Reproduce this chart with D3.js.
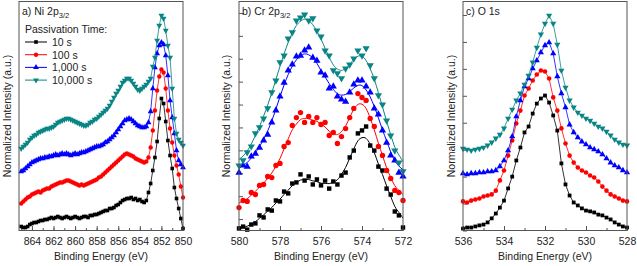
<!doctype html>
<html>
<head>
<meta charset="utf-8">
<title>XPS spectra vs passivation time</title>
<script src="https://cdn.jsdelivr.net/npm/d3@7"></script>
<style>
  body { margin: 0; background: #fff; }
  svg text { font-family: "Liberation Sans", Arial, sans-serif; fill: #222; }
</style>
</head>
<body>
<div class="chart"></div>
<script>
var series = ["10 s", "100 s", "1,000 s", "10,000 s"];
var colors = ["#000000", "#ff0000", "#0000ff", "#0a8585"];

// a) Ni 2p3/2 , 865 -> 850 eV every 0.2 eV
var niEnergy = d3.range(0, 76).map(function(i) { return +(865 - i * 0.2).toFixed(1); });
var ni10 = [2, 1.5, 1.5, 2, 3, 3.5, 4, 4, 4.5, 5,
            5, 5.5, 5.5, 6, 6.5, 6, 6.5, 7, 6.5, 6,
            6.5, 7, 6.5, 6, 6.5, 7, 6.5, 6, 6.5, 7,
            7, 6.5, 7.5, 7.5, 8, 8, 8.5, 9, 9.5, 10,
            10, 11, 11, 11.5, 12.5, 13, 14, 15, 15.5, 16,
            16, 16.5, 15.5, 16, 15, 15.5, 14.5, 14, 15, 19,
            23.5, 30, 36.5, 44.5, 56, 66, 63.5, 54.5, 45, 37.5,
            31, 21.5, 16, 11, 6, 1];
var ni100 = [13.5, 14.5, 15.5, 16.5, 17, 18, 18.5, 19, 19.5, 19,
             20, 20.5, 21, 21, 22, 22.5, 23, 23.5, 24, 24,
             24.5, 25, 25, 24.5, 24, 23.5, 23, 22.5, 23, 22.5,
             23, 23.5, 24, 24.5, 25, 25.5, 26.5, 27, 28, 29,
             30, 31, 32, 33, 34, 35, 36, 37, 38, 38.5,
             38, 37.5, 37, 36, 35.5, 35, 34.5, 34, 34.5, 36.5,
             41.5, 50, 60, 70, 77, 80.5, 79, 71, 60, 51,
             44, 37.5, 32.5, 28, 22, 16.5];
var ni1000 = [29.5, 30, 31, 32, 33, 34, 34.5, 35, 35.5, 36,
              36, 36.5, 36.5, 37, 37, 37.5, 38, 37.5, 38, 38.5,
              38, 38.5, 38, 37.5, 38, 38.5, 38, 38.5, 39, 39,
              39.5, 40, 40.5, 41, 41.5, 42, 42, 42.5, 43, 44,
              44.5, 45.5, 46.5, 47.5, 49, 50.5, 52, 53.5, 55, 55.5,
              56, 55.5, 54.5, 53.5, 52.5, 52, 51.5, 51.5, 52, 54,
              59.5, 71, 81.5, 88.5, 92.5, 94, 93, 87.5, 77.5, 65,
              56.5, 48.5, 40, 35, 33, 31.5];
var ni10000 = [41, 42, 43, 44, 45.5, 46.5, 47.5, 48, 49, 49.5,
               50, 50.5, 51, 51, 51.5, 52, 53, 54, 54.5, 55,
               55.5, 56, 56, 55.5, 55, 54.5, 54, 53.5, 53, 52.5,
               52.5, 53, 54, 54.5, 55.5, 56, 57, 58, 59, 60,
               61, 62.5, 64.5, 66.5, 68.5, 70, 72, 74, 75, 76,
               76, 75, 73.5, 72, 70.5, 70, 71, 72, 73, 74.5,
               76, 82, 86.5, 95, 102.5, 107.5, 106, 100, 92.5, 86.5,
               71, 56, 48.5, 45.5, 44, 42.5];

// b) Cr 2p3/2 , 580 -> 572 eV every 0.2 eV
var crEnergy = d3.range(0, 41).map(function(i) { return +(580 - i * 0.2).toFixed(1); });
var cr10 = [0.9, 1.7, 0.4, 2.6, 3.1, 6.6, 5.7, 9.2, 8.7, 13.1,
            12.7, 17.0, 16.2, 20.5, 21.0, 24.5, 21.8, 23.6, 20.1, 22.3,
            19.7, 21.8, 18.3, 21.4, 20.1, 24.0, 25.3, 31.9, 34.9, 42.4,
            43.7, 45.4, 37.1, 34.9, 27.9, 26.2, 18.3, 15.7, 8.3, 6.6, 1.3];
var cr100 = [10.0, 13.1, 12.7, 16.6, 15.7, 19.7, 20.1, 23.6, 23.1, 28.4,
             29.3, 36.7, 38.4, 45.9, 49.3, 51.5, 47.2, 49.8, 47.2, 49.3,
             46.3, 47.2, 41.5, 42.8, 38.0, 41.0, 44.5, 49.3, 53.3, 59.8,
             58.1, 56.8, 48.9, 45.4, 36.7, 32.8, 26.2, 22.7, 17.5, 16.6, 13.1];
var cr1000 = [25.3, 28.4, 27.9, 32.3, 33.6, 36.2, 39.3, 41.9, 47.2, 52.4,
              58.5, 64.6, 69.9, 72.5, 76.0, 76.4, 78.6, 79.9, 75.5, 74.2,
              69.0, 67.7, 62.0, 62.9, 58.5, 57.2, 56.3, 60.3, 63.8, 65.5,
              65.5, 62.9, 60.3, 53.3, 50.7, 43.7, 38.4, 32.8, 30.6, 25.3, 23.6];
var cr10000 = [28.4, 30.6, 34.1, 36.7, 42.4, 45.0, 48.9, 53.3, 60.3, 65.5,
               73.4, 76.4, 83.8, 86.5, 91.7, 93.0, 94.3, 91.7, 92.6, 87.3,
               84.7, 78.6, 76.4, 69.9, 68.6, 66.4, 70.7, 72.5, 75.1, 78.6,
               76.4, 79.5, 72.1, 66.4, 59.0, 55.0, 48.0, 41.5, 34.9, 29.7, 25.8];

// c) O 1s , 536 -> 528 eV every 0.2 eV
var oEnergy = d3.range(0, 41).map(function(i) { return +(536 - i * 0.2).toFixed(1); });
var o10 = [0.7, 1.1, 1.1, 1.5, 1.9, 2.2, 3.0, 4.5, 6.3, 8.5,
           11.1, 15.6, 20.0, 26.0, 30.8, 36.4, 38.6, 43.4, 47.1, 49.0,
           50.1, 47.5, 42.7, 37.1, 24.9, 17.1, 13.0, 10.4, 9.3, 8.2,
           7.4, 7.1, 6.7, 5.9, 5.6, 4.8, 4.1, 3.0, 2.2, 1.5, 1.1];
var o100 = [10.8, 10.4, 11.1, 11.5, 11.9, 12.6, 13.0, 13.4, 14.8, 18.6,
            22.3, 27.8, 33.4, 39.7, 44.5, 50.1, 52.7, 55.7, 57.9, 59.4,
            59.0, 56.4, 49.4, 44.5, 37.9, 32.3, 27.8, 25.2, 23.4, 22.3,
            21.5, 20.4, 19.7, 18.2, 16.3, 14.8, 13.4, 12.6, 11.9, 11.1, 10.8];
var o1000 = [21.2, 20.8, 21.2, 21.2, 21.5, 21.5, 21.9, 21.9, 22.3, 23.8,
             26.0, 29.7, 34.9, 42.3, 48.3, 53.5, 56.4, 60.1, 63.1, 66.1,
             68.7, 69.8, 65.7, 57.2, 50.9, 45.7, 39.3, 36.4, 34.5, 33.0,
             31.9, 30.8, 30.1, 29.3, 28.2, 26.7, 25.2, 24.1, 23.4, 22.3, 21.5];
var o10000 = [30.4, 30.1, 29.7, 30.1, 30.4, 30.8, 31.6, 32.7, 34.2, 35.6,
              37.9, 41.6, 44.9, 48.3, 50.9, 54.2, 57.5, 62.4, 67.9, 72.8,
              76.8, 79.8, 76.8, 69.0, 59.4, 53.1, 48.3, 45.7, 43.8, 42.7,
              41.6, 40.8, 39.7, 38.6, 37.9, 36.7, 35.3, 33.8, 32.7, 31.9, 31.6];

var width = 637, height = 266;
var top0 = 1.5, bottom0 = 230.5, panelW = 164;

var panels = [
  { title: "a) Ni 2p", sub: "3/2", left: 19, xDomain: [865.2, 850], xMajor: d3.range(864, 849, -2),
    yDomain: [0, 114.5], yTicks: [], energy: niEnergy, sets: [ni10, ni100, ni1000, ni10000],
    smooth: false, msize: 1, labelX: 7, legend: true },
  { title: "b) Cr 2p", sub: "3/2", left: 239, xDomain: [580, 572], xMajor: d3.range(580, 571, -2),
    yDomain: [0, 100], yTicks: d3.range(5, 100, 10), energy: crEnergy, sets: [cr10, cr100, cr1000, cr10000],
    smooth: true, msize: 1.5, labelX: 226 },
  { title: "c) O 1s", sub: "", left: 463, xDomain: [536, 528], xMajor: d3.range(536, 527, -2),
    yDomain: [0, 85], yTicks: d3.range(0, 81, 10), energy: oEnergy, sets: [o10, o100, o1000, o10000],
    smooth: false, msize: 1.1, labelX: 451 }
];

var svg = d3.select(".chart").append("svg")
  .attr("width", width)
  .attr("height", height);

function marker(i, k) {
  var t = [d3.symbolSquare, d3.symbolCircle, d3.symbolTriangle, d3.symbolTriangle][i];
  var s = [13, 15, 15, 15][i] * (k || 1);
  return d3.symbol().type(t).size(s)();
}

// running mean used for the fitted line through the scattered Cr points
function runningMean(vals, half) {
  return vals.map(function(v, k) {
    var a = Math.max(0, k - half), b = Math.min(vals.length - 1, k + half);
    return d3.mean(vals.slice(a, b + 1));
  });
}

panels.forEach(function(p) {
  var x = d3.scaleLinear().domain(p.xDomain).range([p.left, p.left + panelW]);
  var y = d3.scaleLinear().domain(p.yDomain).range([bottom0, top0]);
  var g = svg.append("g");

  // minor ticks
  var minor = d3.range(Math.ceil(Math.min.apply(null, p.xDomain)), Math.max.apply(null, p.xDomain) + 0.01, 1);
  g.append("g")
    .attr("transform", "translate(0," + bottom0 + ")")
    .call(d3.axisBottom(x).tickValues(minor).tickSizeInner(-2.5).tickSizeOuter(0).tickFormat(""))
    .call(function(a) { a.select(".domain").remove(); a.selectAll("line").attr("stroke", "#555"); });

  var xa = g.append("g")
    .attr("transform", "translate(0," + bottom0 + ")")
    .call(d3.axisBottom(x).tickValues(p.xMajor).tickSizeInner(-4.5).tickSizeOuter(0).tickPadding(7.5).tickFormat(d3.format("d")));
  xa.select(".domain").remove();
  xa.selectAll("line").attr("stroke", "#555");
  xa.selectAll("text").attr("font-size", 10.5).attr("font-family", null).style("fill", "#222");

  if (p.yTicks.length) {
    var ya = g.append("g")
      .attr("transform", "translate(" + p.left + ",0)")
      .call(d3.axisLeft(y).tickValues(p.yTicks).tickSizeInner(-4).tickSizeOuter(0).tickFormat(""));
    ya.select(".domain").remove();
    ya.selectAll("line").attr("stroke", "#555");
  }

  // curves
  p.sets.forEach(function(vals, si) {
    var pts = vals.map(function(v, k) { return [p.energy[k], v]; });
    var linevals = p.smooth ? runningMean(vals, 2) : vals;
    var linepts = linevals.map(function(v, k) { return [p.energy[k], v]; });
    var line = d3.line()
      .x(function(d) { return x(d[0]); })
      .y(function(d) { return y(d[1]); })
      .curve(p.smooth ? d3.curveBasis : d3.curveLinear);
    g.append("path")
      .attr("d", line(linepts))
      .attr("fill", "none")
      .attr("stroke", colors[si])
      .attr("stroke-width", p.smooth ? 1 : 0.8);
    g.append("g").selectAll("path")
      .data(pts)
      .enter()
      .append("path")
      .attr("d", marker(si, p.msize))
      .attr("fill", colors[si])
      .attr("transform", function(d) {
        return "translate(" + x(d[0]) + "," + y(d[1]) + ")" + (si == 3 ? " rotate(180)" : "");
      });
  });

  // frame
  g.append("rect")
    .attr("x", p.left).attr("y", top0)
    .attr("width", panelW).attr("height", bottom0 - top0)
    .attr("fill", "none").attr("stroke", "#555").attr("stroke-width", 1);

  var t = g.append("text")
    .attr("x", p.left + 3).attr("y", 15)
    .attr("font-size", 10.5)
    .text(p.title);
  if (p.sub) {
    t.append("tspan").attr("font-size", 7.5).attr("dy", 3).text(p.sub);
  }

  g.append("text")
    .attr("transform", "translate(" + p.labelX + "," + 116 + ") rotate(-90)")
    .attr("text-anchor", "middle")
    .attr("dy", "0.35em")
    .attr("font-size", 10.5)
    .text("Normalized Intensity (a.u.)");

  g.append("text")
    .attr("x", p.left + panelW / 2).attr("y", 259.5)
    .attr("text-anchor", "middle")
    .attr("font-size", 10.5)
    .text("Binding Energy (eV)");

  if (p.legend) {
    var lg = g.append("g").attr("transform", "translate(" + (p.left + 6) + ",0)");
    lg.append("text").attr("x", 0).attr("y", 32.5).attr("font-size", 10.5).text("Passivation Time:");
    series.forEach(function(name, si) {
      var cy = 42 + si * 12.7;
      lg.append("line").attr("x1", 0).attr("x2", 22).attr("y1", cy).attr("y2", cy)
        .attr("stroke", colors[si]).attr("stroke-width", 1);
      lg.append("path").attr("d", marker(si)).attr("fill", colors[si])
        .attr("transform", "translate(11," + cy + ")" + (si == 3 ? " rotate(180)" : ""));
      lg.append("text").attr("x", 27).attr("y", cy + 3.8).attr("font-size", 10.5).text(name);
    });
  }
});
</script>
</body>
</html>
